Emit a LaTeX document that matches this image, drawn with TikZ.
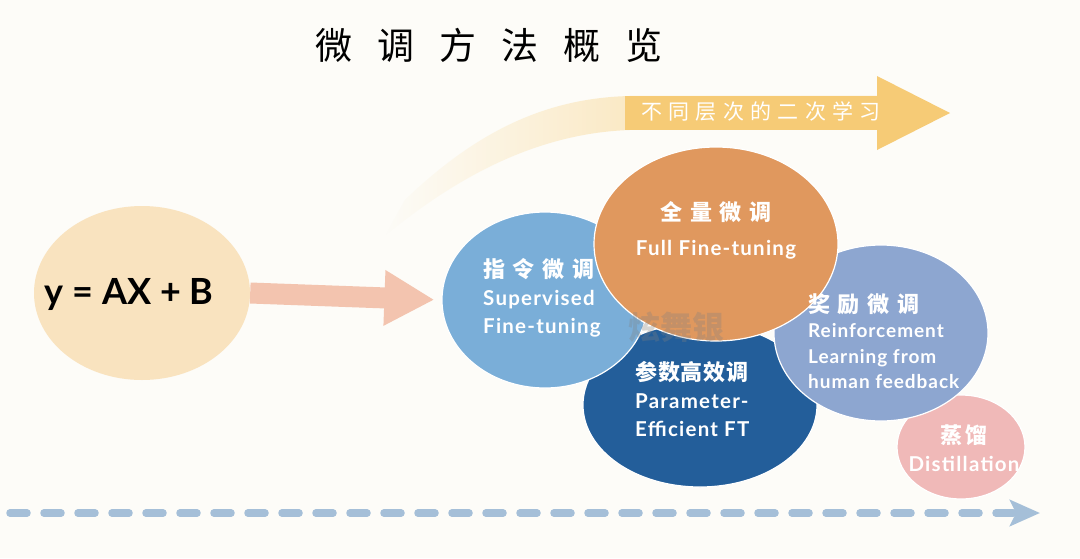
\documentclass[tikz,border=0pt]{standalone}
\usepackage{fontspec}
\setmainfont{Lato}
\newfontfamily\cjk{Noto Sans CJK SC}
\usetikzlibrary{shapes.geometric, arrows.meta, fadings}

\definecolor{paper}{HTML}{FDFCF8}
\definecolor{eqfill}{HTML}{F9E3BF}
\definecolor{pinkarrow}{HTML}{F3C4AF}
\definecolor{sftblue}{HTML}{7AAED8}
\definecolor{peftblue}{HTML}{235E9A}
\definecolor{fullorange}{HTML}{E0985E}
\definecolor{rlhfblue}{HTML}{8DA6D0}
\definecolor{distpink}{HTML}{F0B9B8}
\definecolor{bandyellow}{HTML}{F8D690}
\definecolor{headyellow}{HTML}{F6CB76}
\definecolor{timeline}{HTML}{A5BFD8}

\newcommand\zh[2][35]{{\cjk\fontsize{22}{28}\selectfont\addfontfeature{LetterSpace=#1}#2}}

\tikzfading[name=bandfade, left color=transparent!100, middle color=transparent!0, right color=transparent!0]

\begin{document}
\begin{tikzpicture}[x=1pt,y=-1pt,
  blob/.style={ellipse, inner sep=0pt, draw=white, line width=1.2pt},
  lbl/.style={text=white, font=\bfseries\fontsize{20.5}{28}\selectfont\addfontfeature{LetterSpace=6}, inner sep=0pt}]
\useasboundingbox (0,0) rectangle (1080,558);
\fill[paper] (0,0) rectangle (1080,558);

% title
\node[font=\cjk\fontsize{37}{40}\selectfont\addfontfeature{LetterSpace=68}] (title) at (489,45) {微调方法概览};

% curved band
\fill[bandyellow, path fading=bandfade] (405,200) .. controls (480,128) and (550,98) .. (630,96) -- (885,96)
  -- (885,130) -- (630,130) .. controls (545,133) and (465,170) .. (385,236) -- cycle;
\fill[headyellow] (625,96) rectangle (885,130);
\fill[headyellow] (877,76) -- (950,113) -- (877,150) -- cycle;
\node[text=white, font=\cjk\fontsize{21}{24}\selectfont\addfontfeature{LetterSpace=30}] (bandlbl) at (761,112) {不同层次的二次学习};

% start
\node[ellipse, fill=eqfill, minimum width=216pt, minimum height=174pt] (eq) at (142,293) {};
\node[font=\bfseries\fontsize{36}{38}\selectfont] (eqtxt) at (129,294) {y = AX + B};

% methods
\node[blob, fill=peftblue, minimum width=234pt, minimum height=164pt] (peft) at (700,405) {};
\node[blob, fill=sftblue, minimum width=206pt, minimum height=176pt] (sft) at (545,300) {};
\node[blob, fill=distpink, minimum width=128pt, minimum height=104pt] (dist) at (961,447) {};
\node[blob, fill=rlhfblue, minimum width=214pt, minimum height=176pt] (rlhf) at (881,333) {};
\node[blob, fill=fullorange, minimum width=244pt, minimum height=194pt] (full) at (716,244) {};

\draw[pinkarrow, line width=21pt, -{Triangle[length=50pt, width=52pt]}, shorten >=7pt] (eq.east) -- (sft.west);

\node[lbl, anchor=west, align=left] (sfttxt) at (483,298) {\zh{指令微调}\\Supervised\\Fine-tuning};
\node[lbl, align=center] (fulltxt) at (716,230) {\zh{全量微调}\\[7pt]Full Fine-tuning};
\node[lbl, anchor=west, align=left] (pefttxt) at (635,399) {\zh[4]{参数高效调}\\Parameter-\\Efficient FT};
\node[lbl, anchor=west, align=left, font=\bfseries\fontsize{19}{25.5}\selectfont\addfontfeature{LetterSpace=5}] (rlhftxt) at (808,341) {\zh{奖励微调}\\Reinforcement\\Learning from\\human feedback};
\node[lbl, align=center] (disttxt) at (964,448) {\zh[10]{蒸馏}\\Distillation};

% watermark
\node[text=gray, opacity=0.3, font=\cjk\bfseries\fontsize{32}{34}\selectfont] (mark) at (676,327) {炫舞银};

% timeline
\coordinate (tl0) at (10,513);
\coordinate (tl1) at (1040,513);
\draw[timeline, line width=7.5pt, line cap=round, dash pattern=on 17pt off 17pt,
  -{Stealth[length=30pt, width=26pt, inset=6pt]}] (tl0) -- (tl1);
\end{tikzpicture}
\end{document}
